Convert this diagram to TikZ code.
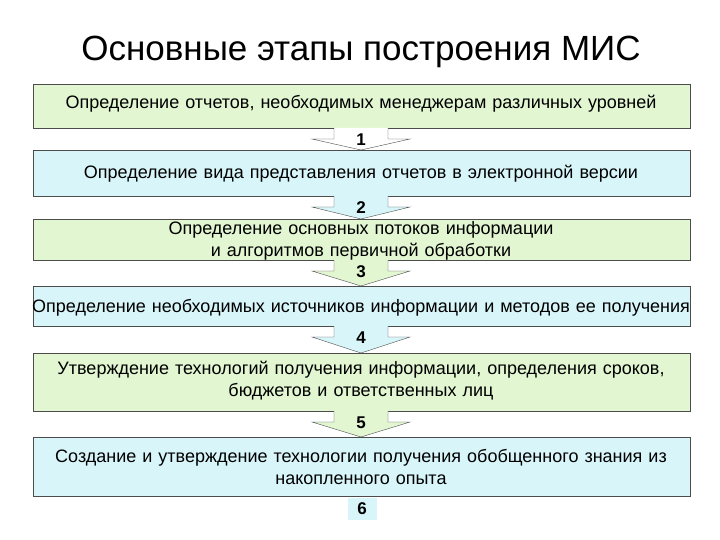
\documentclass[tikz,border=0pt]{standalone}
\usepackage{fontspec}
\setmainfont{Liberation Sans}
\usetikzlibrary{calc}
\begin{document}
\begin{tikzpicture}[x=1pt,y=-1pt,
  txt/.style={font=\fontsize{18}{22}\selectfont,align=center,text width=690pt,inner sep=0pt},
  num/.style={font=\bfseries\fontsize{17}{19}\selectfont}]
\definecolor{grn}{HTML}{E2F6D2}
\definecolor{blu}{HTML}{D8F6FA}
\useasboundingbox (0,0) rectangle (720,540);
\node (title) at (361,52) {\fontsize{35}{40}\selectfont Основные этапы построения МИС};
\def\ys{84/128/grn,150/196/blu,219/260/grn,286/326/blu,353/411/grn,437/496/blu}
\foreach \a/\b/\c [count=\i] in \ys {
  \draw[draw=black!70,fill=\c] (33,\a) rectangle (690,\b);
  \coordinate (t\i) at (361,\a);
  \coordinate (b\i) at (361,\b);
}
\node[txt] (n1) at (361,104) {Определение отчетов, необходимых менеджерам различных уровней};
\node[txt] (n2) at (361,174) {Определение вида представления отчетов в электронной версии};
\node[txt] (n3) at (361,241) {Определение основных потоков информации и алгоритмов первичной обработки};
\node[txt] (n4) at (361,308) {Определение необходимых источников информации и методов ее получения};
\node[txt] (n5) at (361,381) {Утверждение технологий получения информации, определения сроков,\\ бюджетов и ответственных лиц};
\node[txt] (n6) at (361,467) {Создание и утверждение технологии получения обобщенного знания из\\ накопленного опыта};
\foreach \i/\j/\c in {1/2/white,2/3/blu,3/4/grn,4/5/blu,5/6/grn}{
  \path (b\i) coordinate (s) (t\j) coordinate (e);
  \draw[draw=black!70,fill=\c] ($(s)+(-27,0)$) -- ($(s)+(-27,11)$) -- ($(s)+(-49,11)$) -- (e) -- ($(s)+(49,11)$) -- ($(s)+(27,11)$) -- ($(s)+(27,0)$);
  \node[num] (k\i) at ($(s)+(0,12)$) {\i};
}
\node[num,fill=blu,minimum width=29pt,minimum height=22pt] (k6) at (362,509) {6};
\end{tikzpicture}
\end{document}
